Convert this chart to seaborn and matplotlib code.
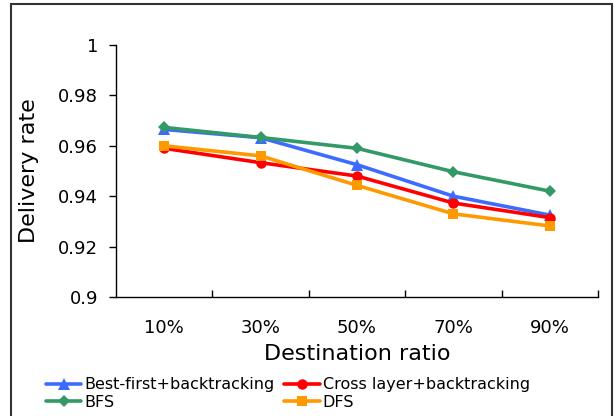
import matplotlib
matplotlib.use("Agg")
import matplotlib.pyplot as plt
import seaborn as sns
import pandas as pd
from matplotlib.patches import Rectangle
from matplotlib.ticker import FixedLocator, FuncFormatter

categories = ["10%", "30%", "50%", "70%", "90%"]
best_first = [0.9665, 0.9632, 0.9525, 0.9400, 0.9325]
cross_layer = [0.9590, 0.9533, 0.9480, 0.9373, 0.9315]
bfs = [0.9673, 0.9633, 0.9590, 0.9497, 0.9420]
dfs = [0.9600, 0.9560, 0.9443, 0.9330, 0.9282]
yticks = [0.9, 0.92, 0.94, 0.96, 0.98, 1.0]

series = {
    "Best-first+backtracking": best_first,
    "Cross layer+backtracking": cross_layer,
    "BFS": bfs,
    "DFS": dfs,
}
rows = []
for name, vals in series.items():
    for c, v in zip(categories, vals):
        rows.append({"ratio": c, "rate": v, "method": name})
df = pd.DataFrame(rows)

sns.set_style("white")
plt.rcParams["font.family"] = ["DejaVu Sans"]
plt.rcParams["text.color"] = "black"
plt.rcParams["axes.labelcolor"] = "black"
plt.rcParams["xtick.color"] = "black"
plt.rcParams["ytick.color"] = "black"

fig = plt.figure(figsize=(6.14, 4.16), dpi=100)
ax = fig.add_axes([116/614, 1-297/416, (598-116)/614, (297-45)/416])

palette = {
    "Best-first+backtracking": "#3D6BFF",
    "Cross layer+backtracking": "#FF0000",
    "BFS": "#339966",
    "DFS": "#FF9900",
}
markers = {
    "Best-first+backtracking": "^",
    "Cross layer+backtracking": "o",
    "BFS": "D",
    "DFS": "s",
}
sizes = {"Best-first+backtracking": 8, "Cross layer+backtracking": 7.5, "BFS": 6, "DFS": 7}

handles = {}
for name in series:
    sub = df[df["method"] == name]
    sns.lineplot(data=sub, x="ratio", y="rate", ax=ax, color=palette[name],
                 marker=markers[name], markersize=sizes[name], markeredgewidth=0,
                 linewidth=2.6, label=name, legend=False)
    handles[name] = ax.lines[-1]

ax.set_xlim(-0.5, 4.5)
ax.set_ylim(0.9, 1.0)
ax.yaxis.set_major_locator(FixedLocator(yticks))
ax.yaxis.set_major_formatter(FuncFormatter(lambda v, p: f"{v:g}"))
ax.xaxis.set_major_locator(FixedLocator(range(len(categories))))
ax.set_xticklabels(categories)
ax.xaxis.set_minor_locator(FixedLocator([i + 0.5 for i in range(len(categories))]))

for s in ["top", "right"]:
    ax.spines[s].set_visible(False)
for s in ["left", "bottom"]:
    ax.spines[s].set_color("black")
    ax.spines[s].set_linewidth(1.0)

ax.tick_params(axis="x", which="major", length=0, pad=16, labelsize=13, colors="black")
ax.tick_params(axis="x", which="minor", direction="in", length=5, width=1, color="black", bottom=True)
ax.tick_params(axis="y", which="major", direction="out", length=5, width=1, pad=8,
               labelsize=13, left=True, color="black", labelcolor="black")
ax.set_xlabel("Destination ratio", fontsize=16, labelpad=5, color="black")
ax.set_ylabel("Delivery rate", fontsize=16, color="black")
ax.yaxis.set_label_coords(-0.16, 0.5)

order = ["Best-first+backtracking", "BFS", "Cross layer+backtracking", "DFS"]
leg = fig.legend([handles[n] for n in order], order, ncol=2, frameon=False,
                 loc="lower left", bbox_to_anchor=(0.065, 0.0), fontsize=11.5,
                 handlelength=2.2, handletextpad=0.2, columnspacing=0.6,
                 labelspacing=0.15, borderaxespad=0)
for t in leg.get_texts():
    t.set_color("black")

fig.patches.append(Rectangle((11/614, -0.05), (612-11)/614, 1-4/416+0.05,
                             transform=fig.transFigure, fill=False,
                             edgecolor="#333333", linewidth=1.5))

fig.savefig("out.png", dpi=100)
